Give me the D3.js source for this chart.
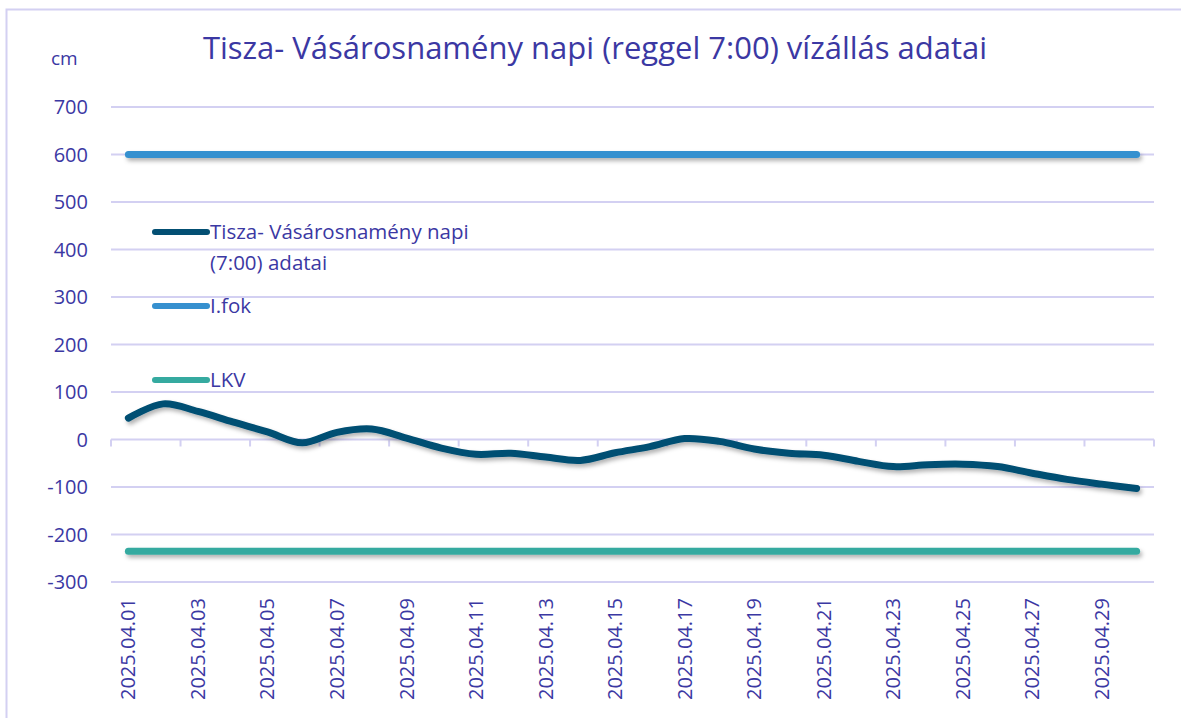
<!DOCTYPE html>
<html lang="hu">
<head>
  <meta charset="UTF-8">
  <title>Tisza- Vásárosnamény vízállás</title>
  <script src="https://d3js.org/d3.v7.min.js"></script>
  <style>
    body { margin: 0; background: #fff; }
    text { font-family: "Open Sans", sans-serif; fill: #3b38a3; }
  </style>
</head>
<body>
  <div id="chart"></div>

  <script>
    // Napi adatok (cm), 2025. április
    const dates = d3.range(1, 31).map(d => '2025.04.' + String(d).padStart(2, '0'));
    const levels = [45, 75, 59, 37, 16, -7, 15, 22, 3, -18,
                    -31, -29, -37, -44, -28, -15, 2, -4, -20, -29,
                    -33, -46, -57, -53, -52, -57, -71, -84, -94, -103];
    const iFok = 600;
    const lkv = -235;
    const yTicks = [700, 600, 500, 400, 300, 200, 100, 0, -100, -200, -300];

    const seriesNames = ['Tisza- Vásárosnamény napi', 'I.fok', 'LKV'];
    const colors = { data: '#034f73', fok: '#3690cf', lkv: '#35aaa0' };
    const gridColor = '#d3d0f2';

    const W = 1181, H = 718;
    const svg = d3.select('#chart').append('svg')
      .attr('width', W)
      .attr('height', H);

    // árnyék a vonalakhoz (userSpaceOnUse, különben a vízszintes vonal eltűnik)
    const defs = svg.append('defs');
    defs.append('filter')
      .attr('id', 'shadow')
      .attr('filterUnits', 'userSpaceOnUse')
      .attr('x', 0).attr('y', 0)
      .attr('width', W).attr('height', H)
      .append('feDropShadow')
      .attr('dx', 2).attr('dy', 3)
      .attr('stdDeviation', 2)
      .attr('flood-color', '#000')
      .attr('flood-opacity', 0.3);

    // keret
    svg.append('rect')
      .attr('x', 6.5).attr('y', 9.5)
      .attr('width', W + 20).attr('height', H + 20)
      .attr('fill', 'none')
      .attr('stroke', gridColor)
      .attr('stroke-width', 2);

    const x = d3.scaleBand().domain(dates).range([111, 1154]).padding(0);
    const y = d3.scaleLinear().domain([-300, 700]).range([582, 107]);
    const cx = d => x(d) + x.bandwidth() / 2;

    // rácsvonalak
    svg.append('g')
      .selectAll('line')
      .data(yTicks)
      .join('line')
      .attr('x1', x.range()[0]).attr('x2', x.range()[1])
      .attr('y1', d => y(d)).attr('y2', d => y(d))
      .attr('stroke', gridColor)
      .attr('stroke-width', 2);

    // y tengely feliratok
    svg.append('g')
      .selectAll('text')
      .data(yTicks)
      .join('text')
      .attr('x', 88)
      .attr('y', d => y(d))
      .attr('dy', '0.35em')
      .attr('text-anchor', 'end')
      .attr('font-size', '20px')
      .text(d => d);

    // osztásjelek a 0 vonalon
    const tickPos = dates.filter((d, i) => i % 2 === 0).map(d => x(d)).concat([x.range()[1]]);
    svg.append('g')
      .selectAll('line')
      .data(tickPos)
      .join('line')
      .attr('x1', d => d).attr('x2', d => d)
      .attr('y1', y(0)).attr('y2', y(0) + 7)
      .attr('stroke', gridColor)
      .attr('stroke-width', 2);

    // x tengely feliratok
    const xAxis = d3.axisBottom(x)
      .tickValues(dates.filter((d, i) => i % 2 === 0))
      .tickSize(0);
    const gx = svg.append('g')
      .attr('transform', `translate(0,${y(-300)})`)
      .call(xAxis);
    gx.select('.domain').remove();
    gx.selectAll('text')
      .attr('transform', 'rotate(-90)')
      .attr('text-anchor', 'end')
      .attr('x', -16)
      .attr('y', 0)
      .attr('dy', '0.35em')
      .attr('font-size', '20px')
      .attr('font-family', '"Open Sans", sans-serif')
      .attr('fill', '#3b38a3');

    // vonalak
    const line = d3.line()
      .x(d => cx(d.date))
      .y(d => y(d.v))
      .curve(d3.curveCatmullRom.alpha(0.5));

    const flat = v => dates.map(d => ({ date: d, v: v }));

    svg.append('path')
      .datum(flat(iFok))
      .attr('d', line)
      .attr('fill', 'none')
      .attr('stroke', colors.fok)
      .attr('stroke-width', 7)
      .attr('stroke-linecap', 'round')
      .attr('filter', 'url(#shadow)');

    svg.append('path')
      .datum(flat(lkv))
      .attr('d', line)
      .attr('fill', 'none')
      .attr('stroke', colors.lkv)
      .attr('stroke-width', 7)
      .attr('stroke-linecap', 'round')
      .attr('filter', 'url(#shadow)');

    svg.append('path')
      .datum(dates.map((d, i) => ({ date: d, v: levels[i] })))
      .attr('d', line)
      .attr('fill', 'none')
      .attr('stroke', colors.data)
      .attr('stroke-width', 7)
      .attr('stroke-linecap', 'round')
      .attr('stroke-linejoin', 'round')
      .attr('filter', 'url(#shadow)');

    // jelmagyarázat
    const legend = [
      { color: colors.data, y: 232, lines: [seriesNames[0], '(7:00) adatai'] },
      { color: colors.fok, y: 306, lines: [seriesNames[1]] },
      { color: colors.lkv, y: 380, lines: [seriesNames[2]] }
    ];
    legend.forEach(l => {
      svg.append('line')
        .attr('x1', 155).attr('x2', 207)
        .attr('y1', l.y).attr('y2', l.y)
        .attr('stroke', l.color)
        .attr('stroke-width', 6)
        .attr('stroke-linecap', 'round');
      l.lines.forEach((t, i) => {
        svg.append('text')
          .attr('x', 210)
          .attr('y', l.y + 7 + i * 31)
          .attr('font-size', '20.5px')
          .text(t);
      });
    });

    // cím és mértékegység
    svg.append('text')
      .attr('x', 595)
      .attr('y', 59)
      .attr('text-anchor', 'middle')
      .attr('font-size', '31px')
      .text('Tisza- Vásárosnamény napi (reggel 7:00) vízállás adatai');

    svg.append('text')
      .attr('x', 51)
      .attr('y', 65)
      .attr('font-size', '19px')
      .text('cm');
  </script>
</body>
</html>
